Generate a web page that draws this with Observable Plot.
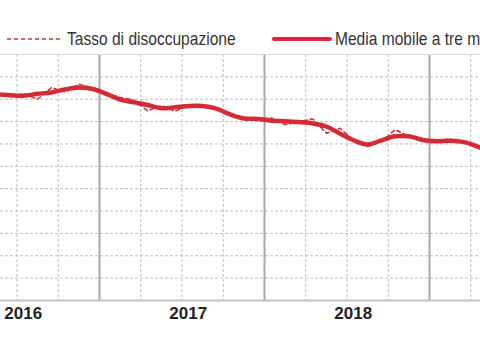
<!DOCTYPE html>
<html><head><meta charset="utf-8">
<script src="https://cdn.jsdelivr.net/npm/d3@7"></script>
<script src="https://cdn.jsdelivr.net/npm/@observablehq/plot@0.6"></script>
<style>
html,body{margin:0;padding:0;background:#fff;width:480px;height:360px;overflow:hidden}
#legend svg,#chart svg{display:block}
</style></head>
<body>
<div id="legend"></div>
<div id="chart"></div>
<script>
const months = ["2016-04","2016-05","2016-06","2016-07","2016-08","2016-09","2016-10","2016-11","2016-12",
  "2017-01","2017-02","2017-03","2017-04","2017-05","2017-06","2017-07","2017-08","2017-09","2017-10","2017-11","2017-12",
  "2018-01","2018-02","2018-03","2018-04","2018-05","2018-06","2018-07","2018-08","2018-09","2018-10","2018-11","2018-12",
  "2019-01","2019-02","2019-03","2019-04","2019-05"];
const rate = [11.61,11.61,11.58,11.62,11.50,11.76,11.66,11.84,11.74,
  11.63,11.54,11.48,11.24,11.36,11.23,11.37,11.35,11.31,11.16,11.08,11.06,
  11.08,10.93,11.00,11.06,10.74,10.85,10.58,10.44,10.55,10.82,10.67,10.59,
  10.57,10.61,10.53,10.42,10.31];
const movingAvg = [11.61,11.61,11.59,11.58,11.62,11.65,11.72,11.76,11.73,
  11.62,11.49,11.43,11.37,11.30,11.32,11.35,11.35,11.29,11.16,11.07,11.06,
  11.02,11.01,10.99,10.96,10.89,10.73,10.58,10.49,10.58,10.67,10.67,10.59,
  10.56,10.57,10.54,10.44,10.31];
const years = ["2016","2017","2018"];
const yTicks = [7,7.5,8,8.5,9,9.5,10,10.5,11,11.5,12,12.5];
const seriesNames = ["Tasso di disoccupazione","Media mobile a tre m"];

const red = "#d42a35";
const idx = s => { const [y,m] = s.split("-").map(Number); return (y-2016)*12 + (m-1) + 0.5; };
const data = months.map((m,i)=>({t: idx(m), rate: rate[i], ma: movingAvg[i]}));
const quarterLines = d3.range(0, 49, 3).filter(q => q % 12 !== 0);
const yearLines = d3.range(0, 49, 12);

// legend (above the chart SVG)
const lg = d3.select("#legend").append("svg").attr("width",480).attr("height",50);
const font = "'Liberation Sans',Arial,sans-serif";
lg.append("line").attr("x1",7).attr("x2",61).attr("y1",39).attr("y2",39)
  .attr("stroke",red).attr("stroke-width",1.6).attr("stroke-dasharray","4,3");
lg.append("text").attr("transform","translate(67,45) scale(0.865,1)").text(seriesNames[0])
  .attr("font-family",font).attr("font-size",18).attr("fill","#333");
lg.append("line").attr("x1",274).attr("x2",330).attr("y1",39).attr("y2",39)
  .attr("stroke",red).attr("stroke-width",4).attr("stroke-linecap","round");
lg.append("text").attr("transform","translate(335,45) scale(0.865,1)").text(seriesNames[1])
  .attr("font-family",font).attr("font-size",18).attr("fill","#333");

const chart = Plot.plot({
  width: 480, height: 310, marginTop: 4, marginBottom: 60, marginLeft: 0, marginRight: 0,
  style: {background: "#fff"},
  x: {domain: [4.8, 39.709], axis: null},
  y: {domain: [7, 12.5], axis: null},
  marks: [
    Plot.ruleY(yTicks.slice(1, -1), {stroke: "#bbbbbb", strokeDasharray: "3,2"}),
    Plot.ruleX(quarterLines, {stroke: "#bbbbbb", strokeDasharray: "3,2", clip: true}),
    Plot.ruleX(yearLines, {stroke: "#a8a8a8", strokeWidth: 2, clip: true}),
    Plot.ruleY([12.5], {stroke: "#d4d4d4"}),
    Plot.ruleY([7], {stroke: "#c0c0c0", strokeWidth: 2}),
    Plot.line(data, {x: "t", y: "rate", stroke: red, strokeWidth: 1.5, strokeDasharray: "4,3", clip: true}),
    Plot.line(data, {x: "t", y: "ma", stroke: red, strokeWidth: 4.5, curve: "catmull-rom", clip: true}),
    Plot.text(years, {x: d => (+d - 2016) * 12 + 6.45, frameAnchor: "bottom", dy: 18,
      text: d => d, fontSize: 17, fontWeight: "bold", fill: "#222",
      fontFamily: "'Liberation Sans',Arial,sans-serif"})
  ]
});
document.getElementById("chart").appendChild(chart);
</script>
</body></html>
